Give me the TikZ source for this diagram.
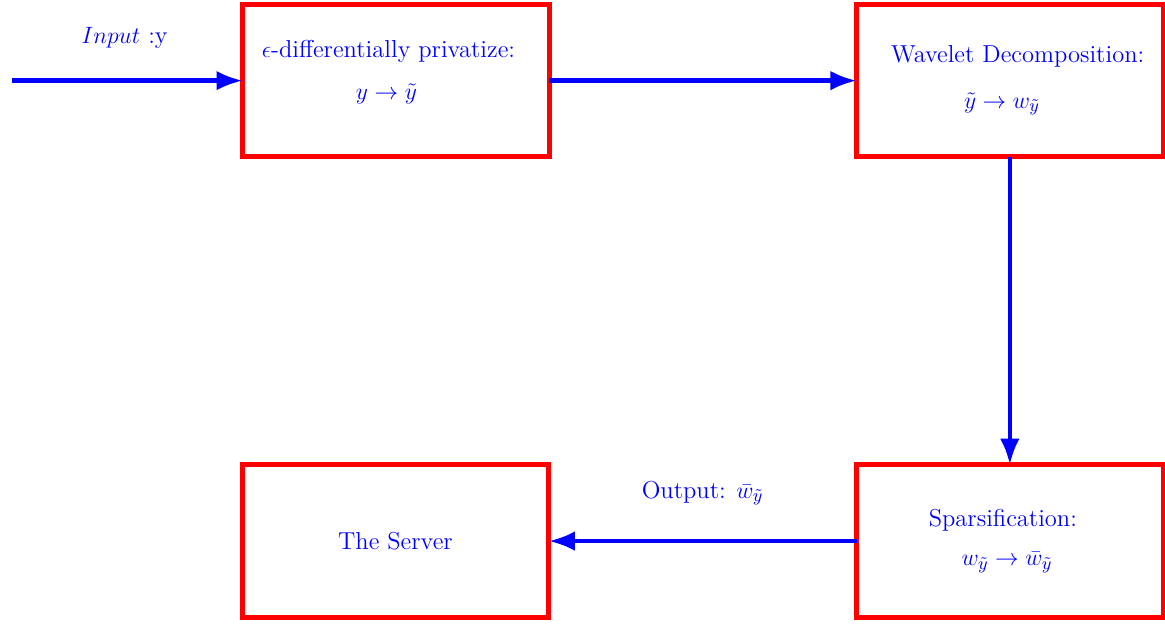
\documentclass[tikz,border=0pt]{standalone}
\usepackage{amsmath, amssymb}
\usepackage{tikz}
\usetikzlibrary{positioning, arrows.meta}

\begin{document}
\begin{tikzpicture}[
    node distance=5.5cm,
    font=\fontsize{12.45}{15}\selectfont,
    stagebox/.style={rectangle, draw=red, line width=2.55pt, outer sep=0pt, minimum width=5.47cm, minimum height=2.72cm, align=center, text=blue},
    flow/.style={-{Latex}, line width=2.3pt, blue},
    flowlabel/.style={text=blue}
  ]
  \useasboundingbox (0,0) rectangle (20.80,-11.125);

  % Stage 1: privatize
  \node[stagebox] (priv) at (7.07,-1.44) {\mbox{$\epsilon$-differentially privatize:\hspace{0.27cm}}\\[6pt] \mbox{$y \to \tilde{y}$\hspace{0.34cm}}\\[-4pt]\mbox{}};
  \coordinate (start) at (0.21,-1.44);
  \draw[flow] (start) -- node[flowlabel, above=0.42cm, xshift=-0.05cm] {$Input$ :y} (priv);

  % Stage 2: wavelet decomposition
  \node[stagebox, right=5.49cm of priv] (wave) {\mbox{\hspace{0.28cm}Wavelet Decomposition:}\\[8pt] \mbox{$\tilde{y} \to w_{\tilde{y}}$\hspace{0.28cm}}};
  \draw[flow] (priv) -- (wave);

  % Stage 3: sparsification
  \node[stagebox, below=of wave] (sparse) {\mbox{Sparsification:\hspace{0.25cm}}\\[5pt] \mbox{$w_{\tilde{y}} \to \bar{w}_{\tilde{y}}$\hspace{0.1cm}}};
  \draw[flow] (wave) -- (sparse);

  % Stage 4: the server
  \node[stagebox, left=of sparse] (server) {The Server};
  \draw[flow] (sparse) -- node[flowlabel, above=0.48cm] {Output: $\bar{w}_{\tilde{y}}$} (server);
\end{tikzpicture}
\end{document}
